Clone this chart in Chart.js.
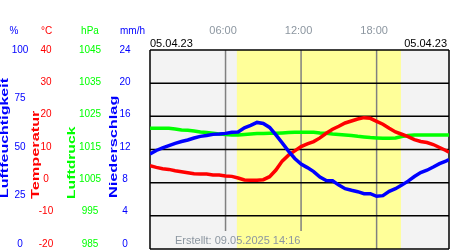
<!DOCTYPE html>
<html>
<head>
<meta charset="utf-8">
<script src="https://cdn.jsdelivr.net/npm/chart.js@4"></script>
<style>
  html, body { margin: 0; padding: 0; background: #fff; }
</style>
</head>
<body>
<canvas id="chart" width="450" height="250"></canvas>
<script>
// sample times, hours after midnight
const hours = [0, 0.5, 1, 1.5, 2, 2.5, 3, 3.5, 4, 4.5, 5, 5.5, 6, 6.5, 7, 7.5, 8, 8.5, 9, 9.5,
  10, 10.5, 11, 11.5, 12, 12.5, 13, 13.5, 14, 14.5, 15, 15.5, 16, 16.5, 17, 17.5, 18, 18.5, 19, 19.5,
  20, 20.5, 21, 21.5, 22, 22.5, 23, 23.5, 23.75];

// Luftfeuchtigkeit in %
const humidity = [47.7, 49.5, 50.8, 52.0, 53.1, 54.0, 54.8, 55.8, 56.6, 57.0,
  57.6, 57.8, 58.1, 58.7, 58.8, 60.9, 62.1, 63.6, 63.1, 61.1,
  57.3, 53.3, 49.2, 45.5, 42.7, 40.9, 38.9, 36.1, 34.4, 34.3,
  32.1, 30.3, 29.5, 28.8, 27.8, 27.8, 26.5, 26.8, 29.0, 30.3,
  32.1, 34.1, 36.4, 38.4, 39.6, 41.2, 42.9, 44.2, 44.9];

// Temperatur in °C
const temperature = [5.1, 4.6, 4.2, 4.0, 3.6, 3.3, 3.0, 2.7, 2.6, 2.6,
  2.3, 2.3, 2.0, 1.9, 1.4, 0.8, 0.7, 0.7, 0.9, 1.8,
  3.8, 6.5, 8.3, 9.6, 10.9, 11.7, 12.4, 13.5, 14.9, 16.1,
  17.0, 18.0, 18.6, 19.2, 19.6, 19.4, 18.5, 17.6, 16.4, 15.3,
  14.6, 13.9, 13.0, 12.4, 12.1, 11.5, 10.6, 9.7, 9.2];

// Luftdruck in hPa
const pressure = [1021.4, 1021.4, 1021.4, 1021.4, 1021.2, 1020.9, 1020.8, 1020.6, 1020.3, 1020.1,
  1019.9, 1019.7, 1019.55, 1019.4, 1019.4, 1019.55, 1019.7, 1019.8, 1019.85, 1019.9,
  1019.9, 1020.0, 1020.1, 1020.2, 1020.2, 1020.2, 1020.2, 1020.0, 1019.9, 1019.7,
  1019.55, 1019.4, 1019.25, 1019.0, 1018.8, 1018.6, 1018.5, 1018.4, 1018.4, 1018.5,
  1018.9, 1019.2, 1019.4, 1019.4, 1019.4, 1019.4, 1019.4, 1019.4, 1019.4];

const humTicks = [0, 25, 50, 75, 100];
const tempTicks = [-20, -10, 0, 10, 20, 30, 40];
const presTicks = [985, 995, 1005, 1015, 1025, 1035, 1045];
const rainTicks = [0, 4, 8, 12, 16, 20, 24];
const timeTicks = [6, 12, 18];
const timeLabels = ['06:00', '12:00', '18:00'];
const daylight = [6.9, 19.93]; // sonnenaufgang, sonnenuntergang
const dateLabel = '05.04.23';
const createdLabel = 'Erstellt: 09.05.2025 14:16';

const BLUE = '#0000ff', RED = '#ff0000', GREEN = '#00ff00';
const FONT = '"Liberation Sans", Arial, sans-serif';

function points(values) {
  return hours.map((h, i) => ({ x: h, y: values[i] }));
}

// rotated axis title, stretched along the text direction
function vText(ctx, text, x, yBottom, color, stretch) {
  ctx.save();
  ctx.translate(x, yBottom);
  ctx.rotate(-Math.PI / 2);
  ctx.scale(stretch, 1);
  ctx.fillStyle = color;
  ctx.textAlign = 'left';
  ctx.textBaseline = 'alphabetic';
  ctx.fillText(text, 0, 0);
  ctx.restore();
}

// background, daylight band, grid
const backdrop = {
  id: 'backdrop',
  beforeDatasetsDraw(chart) {
    const { ctx, chartArea: a, scales } = chart;
    const x = scales.x;
    ctx.save();
    ctx.fillStyle = '#f3f3f3';
    ctx.fillRect(a.left, a.top, a.right - a.left, a.bottom - a.top);
    const x0 = x.getPixelForValue(daylight[0]);
    const x1 = x.getPixelForValue(daylight[1]);
    ctx.fillStyle = '#ffff99';
    ctx.fillRect(x0, a.top, x1 - x0, a.bottom - a.top);

    // the created-label sits over the grid, keep lines clear of it
    ctx.font = '11px ' + FONT;
    const cx = a.left + 25;
    const cw = ctx.measureText(createdLabel).width;

    ctx.strokeStyle = '#808080';
    ctx.lineWidth = 1.5;
    timeTicks.forEach(t => {
      const px = x.getPixelForValue(t);
      const end = (px > cx - 3 && px < cx + cw + 3) ? a.bottom - 18 : a.bottom;
      ctx.beginPath();
      ctx.moveTo(px, a.top);
      ctx.lineTo(px, end);
      ctx.stroke();
    });

    ctx.strokeStyle = '#000';
    ctx.lineWidth = 1.5;
    tempTicks.forEach(v => {
      const py = scales.yTemp.getPixelForValue(v);
      ctx.beginPath();
      ctx.moveTo(a.left, py);
      ctx.lineTo(a.right, py);
      ctx.stroke();
    });
    ctx.beginPath();
    ctx.moveTo(a.left, a.top);
    ctx.lineTo(a.left, a.bottom);
    ctx.moveTo(a.right, a.top);
    ctx.lineTo(a.right, a.bottom);
    ctx.stroke();
    ctx.restore();
  },
  afterDraw(chart) {
    const { ctx, chartArea: a, scales } = chart;
    ctx.save();

    // created label
    ctx.font = '11px ' + FONT;
    ctx.fillStyle = '#8c96a0';
    ctx.textAlign = 'left';
    ctx.textBaseline = 'alphabetic';
    ctx.fillText(createdLabel, a.left + 25, a.bottom - 5);

    // time labels
    ctx.textAlign = 'center';
    timeTicks.forEach((t, i) => {
      ctx.fillText(timeLabels[i], scales.x.getPixelForValue(t) - 2.5, 34);
    });

    // date labels
    ctx.fillStyle = '#000';
    ctx.textAlign = 'left';
    ctx.fillText(dateLabel, a.left, 46.5);
    ctx.textAlign = 'right';
    ctx.fillText(dateLabel, a.right - 2, 46.5);

    // unit headers
    ctx.font = '10px ' + FONT;
    ctx.textAlign = 'center';
    [['%', 14, BLUE], ['°C', 46.5, RED], ['hPa', 90, GREEN], ['mm/h', 132.5, BLUE]].forEach(([u, ux, c]) => {
      ctx.fillStyle = c;
      ctx.fillText(u, ux, 34);
    });

    // tick labels of the four axes
    ctx.textBaseline = 'middle';
    const axes = [
      ['yHum', humTicks, 20, BLUE],
      ['yTemp', tempTicks, 46, RED],
      ['yPres', presTicks, 90, GREEN],
      ['yRain', rainTicks, 125, BLUE]
    ];
    axes.forEach(([id, ticks, tx, c]) => {
      ctx.fillStyle = c;
      ticks.forEach(v => {
        const py = scales[id].getPixelForValue(v);
        ctx.fillText(String(v), tx, a.top + (py - a.top) * 0.975);
      });
    });

    // axis titles
    ctx.font = 'bold 10px ' + FONT;
    vText(ctx, 'Luftfeuchtigkeit', 8.3, 198, BLUE, 1.6);
    vText(ctx, 'Temperatur', 38.5, 199, RED, 1.63);
    vText(ctx, 'Luftdruck', 75, 199, GREEN, 1.57);
    vText(ctx, 'Niederschlag', 117, 198, BLUE, 1.63);
    ctx.restore();
  }
};

new Chart(document.getElementById('chart'), {
  type: 'line',
  data: {
    datasets: [
      { label: 'Luftfeuchtigkeit', data: points(humidity), yAxisID: 'yHum', borderColor: BLUE, order: 0 },
      { label: 'Temperatur', data: points(temperature), yAxisID: 'yTemp', borderColor: RED, order: 1 },
      { label: 'Luftdruck', data: points(pressure), yAxisID: 'yPres', borderColor: GREEN, order: 2 }
    ]
  },
  options: {
    responsive: false,
    animation: false,
    layout: { padding: { left: 150, top: 50, right: 1, bottom: 1 } },
    elements: {
      point: { radius: 0 },
      line: { borderWidth: 3.5, tension: 0, fill: false }
    },
    plugins: {
      legend: { display: false },
      tooltip: { enabled: false }
    },
    scales: {
      x: { type: 'linear', min: 0, max: 23.75, display: false },
      yHum: { min: 0, max: 100, display: false },
      yTemp: { min: -20, max: 40, display: false },
      yPres: { min: 985, max: 1045, display: false },
      yRain: { min: 0, max: 24, display: false }
    }
  },
  plugins: [backdrop]
});
</script>
</body>
</html>
